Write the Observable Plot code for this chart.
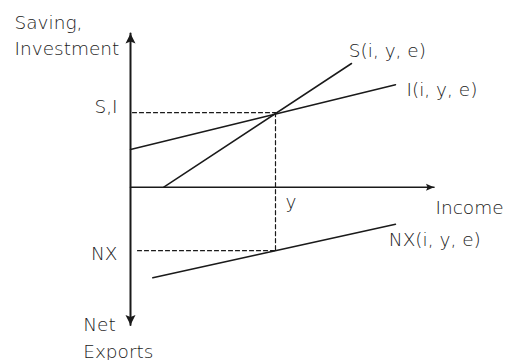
<!DOCTYPE html>
<html><head><meta charset="utf-8">
<script src="https://cdn.jsdelivr.net/npm/d3@7"></script>
<script src="https://cdn.jsdelivr.net/npm/@observablehq/plot@0.6"></script>
<style>html,body{margin:0;padding:0;background:#fff}</style>
</head><body><div id="chart"></div>
<script>
// Axes (data units, origin at axis crossing)
const incomeAxis = [{x: 0, y: 0}, {x: 30.35, y: 0}];
const verticalAxis = [{x: 0, y: 15.37}, {x: 0, y: -13.78}];
// Schedules
const savingLine = [{x: 3.33, y: 0}, {x: 22.1, y: 12.37}];
const investmentLine = [{x: 0, y: 3.77}, {x: 26.5, y: 10.24}];
const netExportsLine = [{x: 2.23, y: -9.06}, {x: 26.5, y: -3.7}];
// Equilibrium guides
const siGuide = [{x: 0.2, y: 7.45}, {x: 14.5, y: 7.45}];
const nxGuide = [{x: 0.7, y: -6.35}, {x: 14.5, y: -6.35}];
const yGuide = [{x: 14.5, y: 7.45}, {x: 14.5, y: -6.35}];
// Arrowheads
const bigArrows = [{x: 0, y: 15.37, rotate: 0}, {x: 0, y: -13.78, rotate: 180}];
const smallArrows = [{x: 30.35, y: 0, rotate: 90}];
// Labels
const startLabels = [
  {text: "Saving,\nInvestment", x: -11.6, y: 13.24},
  {text: "y", x: 15.5, y: -2.03},
  {text: "Income", x: 30.5, y: -2.66},
  {text: "S(i, y, e)", x: 21.83, y: 13.0},
  {text: "I(i, y, e)", x: 27.6, y: 9.17},
  {text: "NX(i, y, e)", x: 25.83, y: -5.83},
  {text: "Net\nExports", x: -4.73, y: -17.03}
];
const endLabels = [
  {text: "S,I", x: -1.3, y: 7.47},
  {text: "NX", x: -1.3, y: -7.23}
];

const ink = "#1a1a1a";
const arrowBig = {draw(ctx) { ctx.moveTo(0, 0); ctx.lineTo(-5, 10); ctx.lineTo(0, 8); ctx.lineTo(5, 10); ctx.closePath(); }};
const arrowSmall = {draw(ctx) { ctx.moveTo(0, 0); ctx.lineTo(-3.5, 8); ctx.lineTo(0, 6.5); ctx.lineTo(3.5, 8); ctx.closePath(); }};
const textOpts = {x: "x", y: "y", text: "text", lineAnchor: "bottom", fontSize: 18.5, fontWeight: 300, lineHeight: 1.41, fill: "#222"};

const plot = Plot.plot({
  width: 506, height: 360,
  marginTop: 0, marginRight: 0, marginBottom: 0, marginLeft: 0,
  x: {domain: [-13, 37.6], axis: null},
  y: {domain: [-17.33, 18.67], axis: null},
  style: {fontFamily: "'DejaVu Sans', sans-serif", background: "#fff"},
  marks: [
    Plot.line(siGuide, {x: "x", y: "y", stroke: ink, strokeWidth: 1.2, strokeDasharray: "4,3"}),
    Plot.line(nxGuide, {x: "x", y: "y", stroke: ink, strokeWidth: 1.2, strokeDasharray: "4,3"}),
    Plot.line(yGuide, {x: "x", y: "y", stroke: ink, strokeWidth: 1.2, strokeDasharray: "4,3"}),
    Plot.line(incomeAxis, {x: "x", y: "y", stroke: ink, strokeWidth: 1.6}),
    Plot.line(verticalAxis, {x: "x", y: "y", stroke: ink, strokeWidth: 2}),
    Plot.line(savingLine, {x: "x", y: "y", stroke: ink, strokeWidth: 1.5}),
    Plot.line(investmentLine, {x: "x", y: "y", stroke: ink, strokeWidth: 1.5}),
    Plot.line(netExportsLine, {x: "x", y: "y", stroke: ink, strokeWidth: 1.5}),
    Plot.dot(bigArrows, {x: "x", y: "y", rotate: "rotate", symbol: arrowBig, fill: ink, stroke: null}),
    Plot.dot(smallArrows, {x: "x", y: "y", rotate: "rotate", symbol: arrowSmall, fill: ink, stroke: null}),
    Plot.text(startLabels, {...textOpts, textAnchor: "start"}),
    Plot.text(endLabels, {...textOpts, textAnchor: "end"})
  ]
});
document.getElementById("chart").append(plot);
</script>
</body></html>
